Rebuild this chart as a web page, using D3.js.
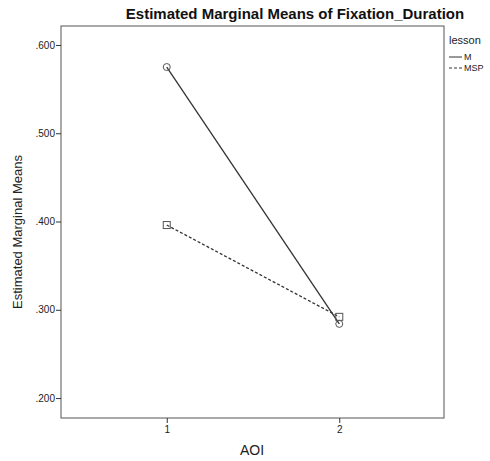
<!DOCTYPE html>
<html><head><meta charset="utf-8">
<script src="https://cdn.jsdelivr.net/npm/d3@7"></script>
<style>body{margin:0;background:#fff}svg{display:block}text{font-family:"Liberation Sans",Arial,sans-serif}</style>
</head><body>
<script>
const categories = [1, 2];
const seriesNames = ["M", "MSP"];
const valuesM = [0.575, 0.284];
const valuesMSP = [0.396, 0.292];
const yTicks = [0.2, 0.3, 0.4, 0.5, 0.6];

const W = 490, H = 461;
const L = 61, R = 444, T = 26, B = 418;
const svg = d3.select("body").append("svg").attr("width", W).attr("height", H);

const x = d3.scaleLinear().domain([0.387, 2.607]).range([L, R]);
const y = d3.scaleLinear().domain([0.1774, 0.6215]).range([B, T]);

svg.append("rect").attr("x", L).attr("y", T).attr("width", R - L).attr("height", B - T)
  .attr("fill", "none").attr("stroke", "#555").attr("stroke-width", 1);

const yAxis = svg.append("g").attr("transform", `translate(${L},0)`)
  .call(d3.axisLeft(y).tickValues(yTicks).tickSize(5).tickFormat(d => d3.format(".3f")(d).replace(/^0/, "")));
yAxis.select(".domain").remove();
yAxis.selectAll("line").attr("stroke", "#333");
yAxis.selectAll("text").attr("font-size", 10).attr("fill", "#222").attr("x", -6);

const xAxis = svg.append("g").attr("transform", `translate(0,${B})`)
  .call(d3.axisBottom(x).tickValues(categories).tickSize(5).tickFormat(d3.format("d")));
xAxis.select(".domain").remove();
xAxis.selectAll("line").attr("stroke", "#333");
xAxis.selectAll("text").attr("font-size", 10).attr("fill", "#222").attr("y", 8);

svg.append("text").attr("x", 295).attr("y", 19).attr("text-anchor", "middle")
  .attr("font-size", 15).attr("font-weight", "bold").attr("fill", "#111")
  .text("Estimated Marginal Means of Fixation_Duration");
svg.append("text").attr("transform", "translate(22,232) rotate(-90)").attr("text-anchor", "middle")
  .attr("font-size", 13).attr("fill", "#222").text("Estimated Marginal Means");
svg.append("text").attr("x", 252).attr("y", 455).attr("text-anchor", "middle")
  .attr("font-size", 14).attr("fill", "#222").text("AOI");

const line = d3.line().x((d, i) => x(categories[i])).y(d => y(d));
const series = [
  {name: "M", vals: valuesM, dash: null, marker: "circle"},
  {name: "MSP", vals: valuesMSP, dash: "3,2", marker: "square"}
];
series.forEach(s => {
  svg.append("path").datum(s.vals).attr("d", line).attr("fill", "none")
    .attr("stroke", "#333").attr("stroke-width", 1.3).attr("stroke-dasharray", s.dash);
  s.vals.forEach((v, i) => {
    if (s.marker === "circle") {
      svg.append("circle").attr("cx", x(categories[i])).attr("cy", y(v)).attr("r", 3.5)
        .attr("fill", "none").attr("stroke", "#555").attr("stroke-width", 1);
    } else {
      svg.append("rect").attr("x", x(categories[i]) - 3.5).attr("y", y(v) - 3.5)
        .attr("width", 7).attr("height", 7)
        .attr("fill", "none").attr("stroke", "#555").attr("stroke-width", 1);
    }
  });
});

svg.append("text").attr("x", 449).attr("y", 44).attr("font-size", 11).attr("fill", "#222").text("lesson");
series.forEach((s, i) => {
  const ly = 57 + i * 11;
  svg.append("line").attr("x1", 449).attr("x2", 462).attr("y1", ly).attr("y2", ly)
    .attr("stroke", "#333").attr("stroke-width", 1).attr("stroke-dasharray", s.dash);
  svg.append("text").attr("x", 464).attr("y", ly + 3).attr("font-size", 9).attr("fill", "#222").text(s.name);
});
</script>
</body></html>
